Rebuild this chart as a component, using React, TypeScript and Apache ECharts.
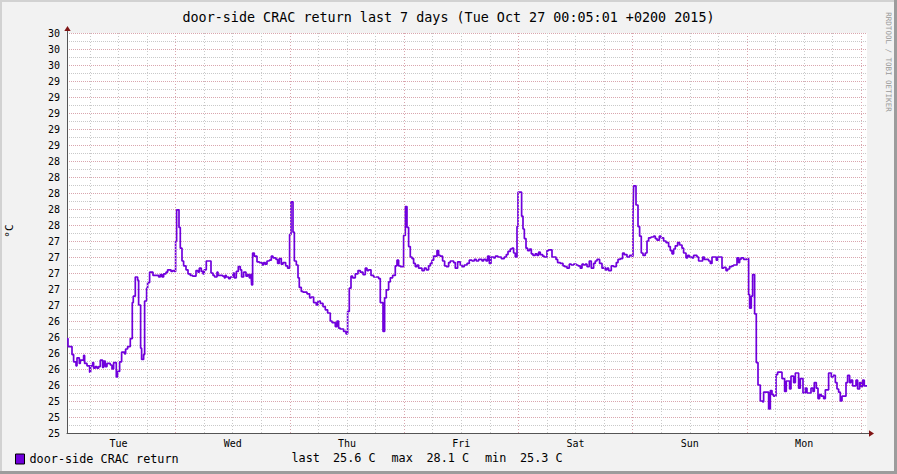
import React, { useEffect, useRef } from "react";
import * as echarts from "echarts";

const chartTitle = "door-side CRAC return last 7 days (Tue Oct 27 00:05:01 +0200 2015)";
const seriesName = "door-side CRAC return";
const unitLabel = "°C";
const watermark = "RRDTOOL / TOBI OETIKER";

// x axis: hours since the start of the 7-day window
const dayNames = ["Tue", "Wed", "Thu", "Fri", "Sat", "Sun", "Mon"];
const dayNoonHours = [10.8, 34.8, 58.8, 82.8, 106.8, 130.8, 154.8];
const majorGridHours = [22.8, 46.8, 70.8, 94.8, 118.8, 142.8, 166.8];
const minorGridHours = [
  4.8, 10.8, 16.8, 28.8, 34.8, 40.8, 52.8, 58.8, 64.8, 76.8, 82.8, 88.8, 100.8,
  106.8, 112.8, 124.8, 130.8, 136.8, 148.8, 154.8, 160.8,
];

const statLabels = ["last", "max", "min"];
const statValues = [25.6, 28.1, 25.3];
const statUnit = "C";

// start hour of each step and its temperature (°C)
const hours = [
  0, 0.21, 1.05, 1.39, 1.89, 2.1, 2.58, 2.79, 3.49, 3.7,
  4.2, 4.75, 4.96, 5.38, 5.59, 5.94, 6.3, 6.64, 6.99, 7.48,
  7.69, 8.04, 8.4, 9.09, 9.45, 9.79, 10.35, 10.63, 11.05, 11.47,
  12.1, 12.31, 12.73, 13.29, 13.71, 13.92, 14.34, 14.83, 15.04, 15.46,
  15.67, 16.09, 16.3, 16.72, 16.93, 17.35, 18.06, 19.24, 19.59, 19.95,
  20.29, 20.79, 21.13, 21.84, 22.18, 22.53, 22.81, 23.02, 23.52, 23.79,
  24.15, 24.49, 24.99, 25.41, 25.89, 26.38, 27.09, 27.51, 27.78, 28.2,
  28.56, 28.83, 29.25, 30.24, 30.66, 31.0, 31.5, 31.71, 32.68, 33.03,
  33.24, 33.45, 33.94, 34.29, 34.86, 35.14, 35.55, 35.97, 36.39, 36.67,
  37.09, 37.59, 37.93, 38.28, 38.64, 38.77, 38.98, 39.33, 39.9, 40.38,
  40.95, 41.29, 41.64, 42.0, 42.48, 42.9, 43.26, 43.89, 44.23, 44.58,
  45.0, 45.36, 45.91, 46.33, 46.75, 47.04, 47.46, 47.74, 48.16, 48.51,
  48.78, 49.2, 49.56, 50.4, 50.95, 51.3, 51.79, 52.35, 52.71, 53.19,
  53.76, 54.24, 54.73, 55.29, 55.65, 56.34, 56.7, 57.04, 57.39, 58.09,
  58.59, 58.93, 59.28, 59.64, 59.98, 60.54, 61.11, 61.59, 62.16, 62.64,
  63.0, 63.34, 63.84, 64.39, 65.44, 65.79, 66.36, 66.7, 67.05, 67.54,
  67.89, 68.38, 68.94, 69.3, 69.64, 69.99, 70.69, 71.04, 71.4, 71.74,
  72.09, 72.45, 72.79, 73.14, 73.5, 73.84, 74.55, 75.03, 75.45, 75.94,
  76.29, 76.65, 76.99, 77.7, 78.04, 78.39, 78.88, 79.3, 79.65, 80.14,
  80.49, 81.19, 81.54, 82.03, 82.59, 82.95, 83.43, 84.0, 84.48, 85.05,
  85.53, 85.95, 86.44, 87.15, 87.49, 87.99, 88.33, 88.69, 89.04, 89.59,
  89.95, 90.51, 91.2, 91.83, 92.25, 92.61, 93.09, 93.45, 93.79, 94.14,
  94.5, 94.71, 95.47, 95.76, 96.04, 96.39, 96.73, 97.15, 97.51, 97.86,
  98.34, 98.7, 99.04, 99.39, 99.88, 100.24, 100.8, 101.14, 101.85, 102.69,
  103.03, 103.59, 104.16, 104.5, 105.0, 105.48, 105.9, 106.39, 106.95, 107.31,
  107.79, 108.15, 108.49, 108.84, 109.2, 109.68, 110.1, 110.59, 110.94, 111.3,
  111.85, 112.35, 112.69, 113.04, 113.4, 113.74, 114.3, 114.79, 115.35, 115.71,
  116.19, 116.68, 117.03, 117.6, 118.15, 118.65, 118.86, 118.99, 119.49, 119.91,
  120.25, 120.6, 120.96, 121.44, 121.8, 122.14, 122.64, 123.19, 123.54, 123.9,
  124.38, 124.74, 125.29, 125.79, 126.34, 126.69, 127.05, 127.39, 127.74, 128.23,
  128.65, 129.15, 129.49, 129.99, 130.33, 130.68, 131.25, 131.59, 132.3, 132.64,
  133.48, 133.83, 134.74, 135.09, 135.45, 136.35, 136.63, 137.55, 137.89, 138.39,
  138.73, 139.15, 139.65, 139.99, 140.7, 141.04, 141.25, 141.54, 142.09, 142.8,
  143.14, 143.35, 143.7, 143.98, 144.4, 144.75, 145.11, 145.59, 146.08, 146.29,
  147.34, 147.7, 148.05, 148.39, 148.89, 149.23, 150.15, 150.7, 151.05, 151.75,
  152.04, 152.59, 152.95, 153.64, 153.99, 154.56, 155.04, 155.4, 156.24, 156.66,
  156.93, 157.35, 157.71, 158.05, 158.4, 158.89, 159.25, 159.94, 160.5, 160.86,
  161.35, 161.7, 162.04, 162.39, 162.75, 163.59, 163.93, 164.35, 164.64, 164.98,
  165.69, 166.03, 166.45, 166.74, 167.08, 167.43, 168,
];

const temps = [
  26.18, 26.08, 25.98, 25.89, 25.84, 25.94, 25.87, 25.91, 25.97, 25.87,
  25.84, 25.76, 25.84, 25.88, 25.81, 25.83, 25.81, 25.83, 25.91, 25.82,
  25.9, 25.83, 25.87, 25.85, 25.8, 25.88, 25.7, 25.77, 25.89, 26.01,
  25.99, 26.05, 26.08, 26.18, 26.63, 26.71, 26.95, 26.91, 26.6, 26.06,
  25.92, 25.98, 26.65, 26.81, 26.88, 27.01, 26.97, 26.95, 26.98, 26.95,
  26.99, 27.01, 27.04, 27.02, 27.03, 27.02, 27.4, 27.79, 27.57, 27.31,
  27.15, 27.09, 27.04, 26.99, 26.97, 26.96, 27.03, 27.01, 27.06, 27.02,
  26.99, 27.04, 27.15, 27.0, 26.97, 26.95, 27.01, 26.97, 26.96, 26.94,
  26.97, 26.95, 26.93, 26.95, 27.0, 26.94, 27.02, 27.08, 27.04, 26.95,
  27.01, 26.96, 26.98, 26.94, 26.99, 26.85, 27.25, 27.21, 27.14, 27.13,
  27.1, 27.13, 27.11, 27.15, 27.16, 27.21, 27.19, 27.17, 27.12, 27.18,
  27.11, 27.13, 27.09, 27.06, 27.48, 27.89, 27.51, 27.15, 27.1, 26.94,
  26.82, 26.77, 26.76, 26.74, 26.69, 26.7, 26.63, 26.6, 26.65, 26.62,
  26.58, 26.54, 26.5, 26.4, 26.38, 26.33, 26.4, 26.31, 26.3, 26.27,
  26.24, 26.52, 26.81, 26.96, 26.94, 26.99, 27.03, 27.01, 26.98, 27.06,
  27.03, 27.04, 26.97, 26.95, 26.93, 26.63, 26.27, 26.69, 26.79, 26.89,
  26.94, 26.97, 27.09, 27.16, 27.09, 27.08, 27.47, 27.83, 27.57, 27.33,
  27.2, 27.18, 27.12, 27.08, 27.1, 27.06, 27.03, 27.06, 27.04, 27.09,
  27.12, 27.16, 27.21, 27.28, 27.22, 27.21, 27.15, 27.09, 27.08, 27.13,
  27.15, 27.13, 27.06, 27.14, 27.1, 27.08, 27.1, 27.12, 27.16, 27.15,
  27.17, 27.15, 27.17, 27.15, 27.17, 27.15, 27.21, 27.12, 27.2, 27.19,
  27.21, 27.2, 27.18, 27.2, 27.23, 27.27, 27.3, 27.31, 27.25, 27.2,
  27.58, 28.01, 27.71, 27.55, 27.43, 27.31, 27.28, 27.3, 27.24, 27.22,
  27.24, 27.22, 27.26, 27.23, 27.21, 27.2, 27.28, 27.29, 27.2, 27.17,
  27.13, 27.12, 27.09, 27.08, 27.06, 27.11, 27.1, 27.11, 27.1, 27.09,
  27.06, 27.11, 27.1, 27.11, 27.08, 27.15, 27.06, 27.12, 27.15, 27.17,
  27.12, 27.06, 27.07, 27.04, 27.06, 27.03, 27.09, 27.08, 27.13, 27.17,
  27.18, 27.25, 27.23, 27.2, 27.22, 27.21, 27.73, 28.09, 27.85, 27.58,
  27.46, 27.25, 27.22, 27.25, 27.4, 27.44, 27.45, 27.46, 27.43, 27.41,
  27.46, 27.44, 27.4, 27.38, 27.33, 27.28, 27.24, 27.3, 27.34, 27.38,
  27.35, 27.31, 27.25, 27.19, 27.22, 27.2, 27.19, 27.22, 27.2, 27.15,
  27.2, 27.17, 27.15, 27.12, 27.2, 27.16, 27.2, 27.06, 27.07, 27.03,
  27.05, 27.08, 27.09, 27.1, 27.19, 27.13, 27.17, 27.19, 27.17, 27.18,
  26.73, 26.56, 26.71, 26.98, 26.49, 25.88, 25.6, 25.4, 25.39, 25.51,
  25.3, 25.53, 25.48, 25.46, 25.73, 25.76, 25.68, 25.52, 25.65, 25.55,
  25.71, 25.63, 25.75, 25.56, 25.68, 25.5, 25.56, 25.5, 25.56, 25.52,
  25.63, 25.56, 25.43, 25.48, 25.46, 25.43, 25.54, 25.75, 25.7, 25.72,
  25.63, 25.55, 25.51, 25.4, 25.46, 25.63, 25.72, 25.63, 25.66, 25.59,
  25.66, 25.55, 25.63, 25.58, 25.66, 25.59, 25.59,
];

const yMin = 25;
const yMax = 30;
const yStep = 0.2;
const xMin = 0;
const xMax = 168;

const MONO = "'DejaVu Sans Mono', monospace";
const LINE_COLOR = "#7000dc";
const MAJOR_GRID = "#d9a6ae";
const MINOR_GRID = "#c9c9c9";
const ARROW = "#801414";

export default function App() {
  const ref = useRef<HTMLDivElement>(null);

  useEffect(() => {
    if (!ref.current) return;
    const chart = echarts.init(ref.current, undefined, { renderer: "svg" });
    const data = hours.map((h, i) => [h, temps[i]]);

    const gridMarks = [
      ...minorGridHours.map((h) => ({
        xAxis: h,
        lineStyle: { color: MINOR_GRID, type: [1, 2], width: 1 },
      })),
      ...majorGridHours.map((h) => ({
        xAxis: h,
        lineStyle: { color: MAJOR_GRID, type: [1, 2], width: 1 },
      })),
    ];

    const statX = [291.5, 391.5, 485];
    const statValX = [333, 426.5, 520];
    const statTexts: any[] = [];
    statLabels.forEach((lab, i) => {
      statTexts.push({
        type: "text",
        x: statX[i],
        y: 458,
        style: {
          text: lab,
          font: `11.8px ${MONO}`,
          fill: "#000",
          align: "left",
          verticalAlign: "middle",
          textAlign: "left",
          textVerticalAlign: "middle",
        },
      });
      statTexts.push({
        type: "text",
        x: statValX[i],
        y: 458,
        style: {
          text: `${statValues[i].toFixed(1)} ${statUnit}`,
          font: `11.8px ${MONO}`,
          fill: "#000",
          align: "left",
          verticalAlign: "middle",
          textAlign: "left",
          textVerticalAlign: "middle",
        },
      });
    });

    chart.setOption({
      animation: false,
      backgroundColor: "#f2f2f2",
      textStyle: { fontFamily: MONO },
      title: {
        text: chartTitle,
        left: "center",
        top: 6,
        textStyle: { fontFamily: MONO, fontSize: 13.4, fontWeight: "normal", color: "#000" },
      },
      legend: {
        left: 15,
        top: 453,
        padding: 0,
        itemWidth: 9,
        itemHeight: 10,
        itemGap: 10,
        textStyle: { fontFamily: MONO, fontSize: 11.8, color: "#000" },
        data: [
          {
            name: seriesName,
            icon: "rect",
            itemStyle: { color: LINE_COLOR, borderColor: "#000", borderWidth: 1 },
          },
        ],
      },
      grid: {
        left: 67,
        top: 33,
        width: 800,
        height: 400,
        show: true,
        backgroundColor: "#ffffff",
        borderWidth: 0,
        containLabel: false,
      },
      xAxis: {
        type: "value",
        min: xMin,
        max: xMax,
        axisLine: { show: true, lineStyle: { color: "#555", width: 1 } },
        axisTick: { show: false },
        splitLine: { show: false },
        axisLabel: {
          show: true,
          customValues: dayNoonHours,
          margin: 5,
          fontFamily: MONO,
          fontSize: 10,
          color: "#000",
          formatter: (v: number) => {
            const i = dayNoonHours.findIndex((d) => Math.abs(d - v) < 1e-6);
            return i >= 0 ? dayNames[i] : "";
          },
        },
      },
      yAxis: {
        type: "value",
        min: yMin,
        max: yMax,
        interval: yStep,
        axisLine: { show: true, lineStyle: { color: "#555", width: 1 } },
        axisTick: { show: false },
        axisLabel: {
          margin: 7,
          fontFamily: MONO,
          fontSize: 10,
          color: "#000",
          formatter: (v: number) => String(Math.round(v)),
        },
        splitLine: { show: true, lineStyle: { color: MAJOR_GRID, type: [1, 1], width: 1 } },
        minorTick: { show: false, splitNumber: 2 },
        minorSplitLine: { show: true, lineStyle: { color: MINOR_GRID, type: [1, 1], width: 1 } },
      },
      series: [
        {
          name: "grid",
          type: "line",
          data: [],
          z: 1,
          silent: true,
          markLine: {
            silent: true,
            symbol: ["none", "none"],
            label: { show: false },
            animation: false,
            data: gridMarks,
          },
        },
        {
          name: seriesName,
          type: "line",
          step: "end",
          data,
          z: 3,
          showSymbol: false,
          symbol: "none",
          lineStyle: { color: LINE_COLOR, width: 1.7 },
          itemStyle: { color: LINE_COLOR },
        },
      ],
      graphic: [
        // shaded frame
        { type: "rect", shape: { x: 0, y: 0, width: 897, height: 2 }, style: { fill: "#d2d2d2" }, silent: true },
        { type: "rect", shape: { x: 0, y: 0, width: 2, height: 474 }, style: { fill: "#d2d2d2" }, silent: true },
        { type: "rect", shape: { x: 0, y: 471, width: 897, height: 3 }, style: { fill: "#9c9c9c" }, silent: true },
        { type: "rect", shape: { x: 894, y: 0, width: 3, height: 474 }, style: { fill: "#9c9c9c" }, silent: true },
        // axis extensions and arrows
        { type: "line", shape: { x1: 867, y1: 433.5, x2: 869, y2: 433.5 }, style: { stroke: "#555", lineWidth: 1 }, silent: true },
        { type: "line", shape: { x1: 67.5, y1: 33, x2: 67.5, y2: 30.5 }, style: { stroke: "#555", lineWidth: 1 }, silent: true },
        { type: "polygon", shape: { points: [[869, 430.3], [869, 436.7], [874, 433.5]] }, style: { fill: ARROW }, silent: true },
        { type: "polygon", shape: { points: [[64.3, 31], [70.7, 31], [67.5, 26]] }, style: { fill: ARROW }, silent: true },
        // unit label
        {
          type: "text",
          x: 9,
          y: 231,
          rotation: Math.PI / 2,
          style: {
            text: unitLabel,
            font: `11px ${MONO}`,
            fill: "#000",
            align: "center",
            verticalAlign: "middle",
            textAlign: "center",
            textVerticalAlign: "middle",
          },
        },
        // watermark
        {
          type: "text",
          x: 888.5,
          y: 62,
          rotation: -Math.PI / 2,
          style: {
            text: watermark,
            font: `7.5px ${MONO}`,
            fill: "#9a9a9a",
            align: "center",
            verticalAlign: "middle",
            textAlign: "center",
            textVerticalAlign: "middle",
          },
        },
        ...statTexts,
      ],
    });

    return () => chart.dispose();
  }, []);

  return (
    <div
      ref={ref}
      style={{ position: "absolute", left: 0, top: 0, width: 897, height: 474 }}
    />
  );
}
